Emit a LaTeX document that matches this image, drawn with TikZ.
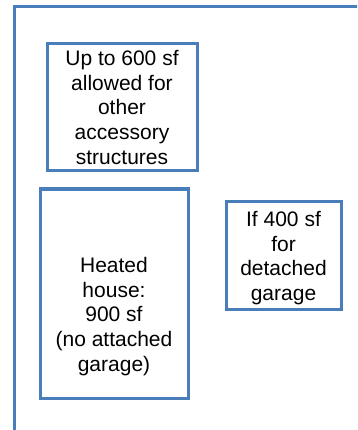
\documentclass[tikz,border=0pt]{standalone}
\usepackage{fontspec}
\setmainfont{Liberation Sans}
\definecolor{lotblue}{HTML}{4A7EBB}
\tikzset{
  bldg/.style={draw=lotblue, line width=3pt, inner sep=0pt},
  note/.style={align=center, font=\fontsize{21}{24.7}\selectfont, inner sep=0pt}
}

\begin{document}
\begin{tikzpicture}[x=1pt, y=-1pt]
        \useasboundingbox (0,0) rectangle (357,430);
        \clip (0,0) rectangle (357,430);
        % lot outline, runs off the page on the right and at the bottom
        \draw[lotblue, line width=3pt] (14,480) |- (420,7);
        \node[bldg, minimum width=150pt, minimum height=127pt] (accessory) at (122,107.5) {};
        \node[bldg, minimum width=148pt, minimum height=209pt] (house) at (114,293.5) {};
        \node[bldg, minimum width=115pt, minimum height=108pt] (garage) at (283.5,255) {};
        \node[note] (accessorytext) at (accessory.center) {Up to 600 sf\\allowed for\\other\\accessory\\structures};
        \node[note] (housetext) at ([yshift=-23pt]house.center) {Heated\\house:\\900 sf\\(no attached\\garage)};
        \node[note] (garagetext) at ([yshift=-3pt]garage.center) {If 400 sf\\for\\detached\\garage};
\end{tikzpicture}
\end{document}
